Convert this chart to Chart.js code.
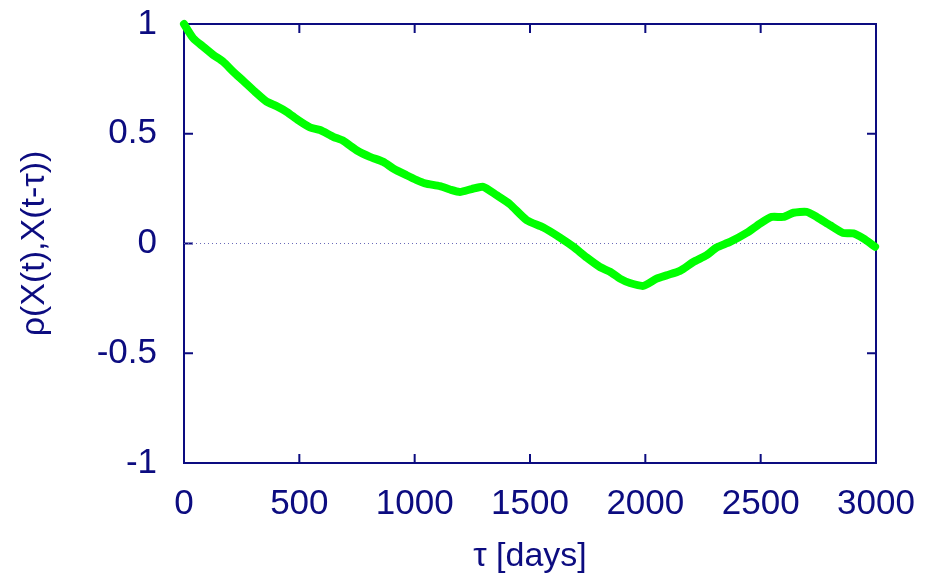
<!DOCTYPE html>
<html>
<head>
<meta charset="utf-8">
<script src="https://cdn.jsdelivr.net/npm/chart.js@4.4.1/dist/chart.umd.min.js"></script>
<style>
  html, body { margin: 0; padding: 0; background: #fff; }
</style>
</head>
<body>
<canvas id="acf" width="928" height="577"></canvas>
<script>
// lag in days and autocorrelation
const lagDays = [0, 40, 84, 127, 170, 214, 257, 308, 358, 401, 445, 495, 546, 590, 647, 690, 748, 806, 864, 907, 965, 1009, 1045, 1110, 1153, 1196, 1247, 1297, 1355, 1413, 1486, 1558, 1630, 1688, 1746, 1803, 1847, 1890, 1933, 1991, 2049, 2092, 2150, 2208, 2266, 2309, 2367, 2439, 2497, 2548, 2598, 2642, 2699, 2743, 2801, 2858, 2902, 2945, 2996];
const rho = [1.0, 0.935, 0.896, 0.859, 0.828, 0.782, 0.741, 0.691, 0.646, 0.626, 0.600, 0.562, 0.529, 0.517, 0.486, 0.468, 0.425, 0.395, 0.372, 0.342, 0.311, 0.289, 0.274, 0.261, 0.246, 0.235, 0.248, 0.258, 0.220, 0.179, 0.106, 0.073, 0.027, -0.015, -0.064, -0.107, -0.129, -0.160, -0.180, -0.193, -0.160, -0.145, -0.125, -0.084, -0.053, -0.018, 0.007, 0.048, 0.091, 0.121, 0.121, 0.140, 0.144, 0.121, 0.083, 0.048, 0.046, 0.023, -0.015];
const xTicks = [0, 500, 1000, 1500, 2000, 2500, 3000];
const yTicks = [-1, -0.5, 0, 0.5, 1];

const NAVY = '#0c0c80';
const FONT = 'Liberation Sans, Arial, sans-serif';

const points = lagDays.map((d, i) => ({ x: d, y: rho[i] }));

// gnuplot-like frame with inward ticks on all four sides
const framePlugin = {
    id: 'frame',
    beforeDatasetsDraw(chart) {
        const { ctx, chartArea: a, scales } = chart;
        const len = 9;
        ctx.save();
        ctx.strokeStyle = NAVY;
        ctx.lineWidth = 2;
        ctx.strokeRect(a.left, a.top, a.right - a.left, a.bottom - a.top);
        ctx.beginPath();
        xTicks.forEach(v => {
            const px = scales.x.getPixelForValue(v);
            ctx.moveTo(px, a.bottom); ctx.lineTo(px, a.bottom - len);
            ctx.moveTo(px, a.top); ctx.lineTo(px, a.top + len);
        });
        yTicks.forEach(v => {
            const py = scales.y.getPixelForValue(v);
            ctx.moveTo(a.left, py); ctx.lineTo(a.left + len, py);
            ctx.moveTo(a.right, py); ctx.lineTo(a.right - len, py);
        });
        ctx.stroke();
        ctx.restore();
    }
};

new Chart(document.getElementById('acf'), {
    type: 'scatter',
    data: {
        datasets: [{
            data: points,
            showLine: true,
            borderColor: '#00ff00',
            borderWidth: 8,
            borderJoinStyle: 'round',
            borderCapStyle: 'round',
            pointRadius: 0,
            tension: 0.2,
            clip: false,
            order: 1
        }, {
            data: [{ x: 0, y: 0 }, { x: 3000, y: 0 }],
            showLine: true,
            borderColor: '#6a6ab8',
            borderWidth: 1,
            borderDash: [1, 3],
            pointRadius: 0,
            order: 2
        }]
    },
    options: {
        responsive: false,
        animation: false,
        devicePixelRatio: 1,
        layout: { padding: { left: 0, right: 52, top: 24, bottom: 0 } },
        plugins: { legend: { display: false }, tooltip: { enabled: false } },
        scales: {
            x: {
                type: 'linear',
                min: 0, max: 3000,
                afterBuildTicks: s => { s.ticks = xTicks.map(v => ({ value: v })); },
                afterFit: s => { s.height = 114; s.paddingLeft = 0; s.paddingRight = 0; },
                border: { display: false },
                grid: { display: false, drawTicks: false },
                ticks: { color: NAVY, padding: 20, font: { family: FONT, size: 35 }, maxRotation: 0, callback: v => String(v) },
                title: { display: true, text: 'τ [days]', color: NAVY, font: { family: FONT, size: 34 }, padding: { top: 0, bottom: 0 } }
            },
            y: {
                min: -1, max: 1,
                afterBuildTicks: s => { s.ticks = yTicks.map(v => ({ value: v })); },
                afterFit: s => { s.width = 184; s.paddingTop = 0; s.paddingBottom = 0; },
                border: { display: false },
                grid: { display: false, drawTicks: false },
                ticks: { color: NAVY, padding: 27, font: { family: FONT, size: 35 }, callback: v => String(v) },
                title: { display: true, text: 'ρ(X(t),X(t-τ))', color: NAVY, font: { family: FONT, size: 34 }, padding: { top: 14, bottom: 0 } }
            }
        }
    },
    plugins: [framePlugin]
});
</script>
</body>
</html>
